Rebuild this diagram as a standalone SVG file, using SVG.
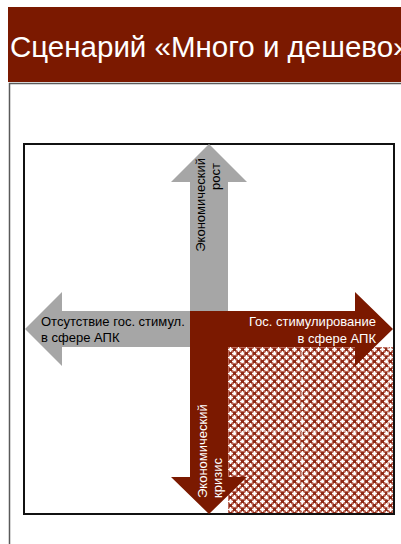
<svg xmlns="http://www.w3.org/2000/svg" width="401" height="544" viewBox="0 0 401 544">
<style>
.t{font-family:"Liberation Sans",Arial,sans-serif;font-size:13px}
.w{fill:#fff}
.k{fill:#000}
.gray{fill:#a6a6a6}
.red{fill:#7b1900}
.grid{stroke:#fff;stroke-width:1.2;stroke-dasharray:3 2;fill:none;opacity:.9}
</style>
<defs>
<pattern id="plaid" width="8" height="8" patternUnits="userSpaceOnUse" x="228" y="347">
<rect width="8" height="8" fill="#bb6a5b"/>
<rect x="5" y="1" width="3" height="3" fill="#8e2a16"/>
<rect x="1" y="5" width="3" height="3" fill="#8e2a16"/>
<rect x="1" y="1" width="3" height="3" fill="#ecd0c9"/>
<rect x="5" y="5" width="3" height="3" fill="#ecd0c9"/>
<rect x="0" y="2" width="5" height="1" fill="#fff"/>
<rect x="2" y="0" width="1" height="5" fill="#fff"/>
<rect x="4" y="6" width="4" height="1" fill="#fff"/>
<rect x="6" y="4" width="1" height="4" fill="#fff"/>
</pattern>
</defs>
<rect width="401" height="544" fill="#fff"/>
<g id="title">
<rect x="8" y="7" width="393" height="75" class="red"/>
<text x="10" y="57" class="t w" style="font-size:29.5px">Сценарий «Много и дешево»</text>
</g>
<path d="M9.5 544V83.5H401" fill="none" stroke="#5a5a5a" stroke-width="1.5"/>
<g id="quadrant">
<rect x="228" y="347" width="166" height="167" fill="url(#plaid)"/>
<path class="grid" d="M302 347V514M388 347V514M228 431H394"/>
</g>
<rect id="frame" x="24" y="144" width="370" height="370" fill="none" stroke="#111" stroke-width="2"/>
<g id="growth">
<polygon class="gray" points="209,144 247,182 228,182 228,311 190,311 190,182 171,182"/>
<text class="t k" text-anchor="end" transform="translate(205,158) rotate(-90)">Экономический</text>
<text class="t k" text-anchor="end" transform="translate(220,163) rotate(-90)">рост</text>
</g>
<g id="no-stimulus">
<polygon class="gray" points="25,329 62,292 62,311 190,311 190,347 62,347 62,366"/>
<text class="t k" x="41" y="326">Отсутствие гос. стимул.</text>
<text class="t k" x="41" y="342">в сфере АПК</text>
</g>
<g id="center"><rect x="190" y="311" width="38" height="36" class="red"/></g>
<g id="stimulus">
<polygon class="red" points="228,311 355,311 355,292 393,329 355,366 355,347 228,347"/>
<text class="t w" text-anchor="end" x="376" y="326">Гос. стимулирование</text>
<text class="t w" text-anchor="end" x="376" y="343">в сфере АПК</text>
</g>
<g id="crisis">
<polygon class="red" points="190,347 228,347 228,477 247,477 209,514 171,477 190,477"/>
<text class="t w" transform="translate(207,498) rotate(-90)">Экономический</text>
<text class="t w" transform="translate(222,498) rotate(-90)">кризис</text>
</g>
</svg>
